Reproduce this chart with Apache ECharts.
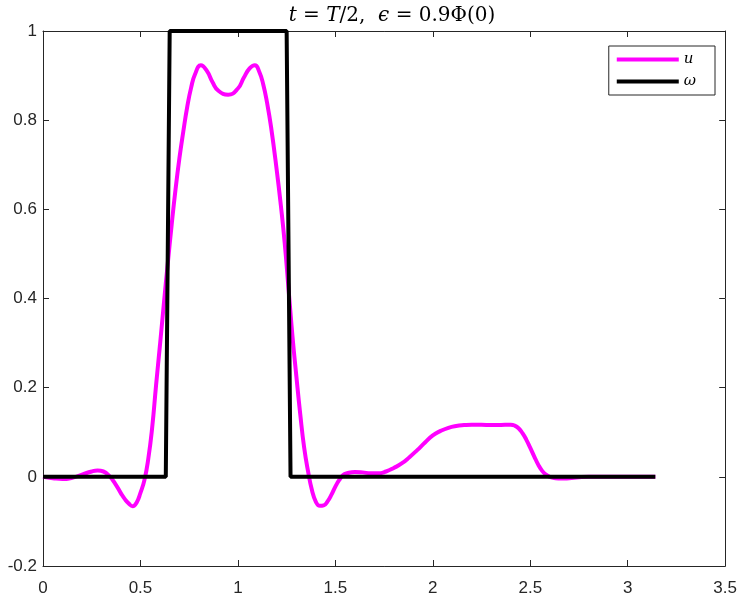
<!DOCTYPE html>
<html>
<head>
<meta charset="utf-8">
<script src="https://cdn.jsdelivr.net/npm/echarts@6/dist/echarts.min.js"></script>
<style>
html,body{margin:0;padding:0;background:#fff;}
#chart{width:740px;height:598px;}
</style>
</head>
<body>
<div id="chart"></div>
<script>
// ---- data ----
const uX = [0, 0.05, 0.10, 0.15, 0.20, 0.25, 0.28, 0.31, 0.34, 0.37, 0.40, 0.42, 0.44, 0.46, 0.48, 0.50, 0.52, 0.54, 0.56, 0.58, 0.60, 0.62, 0.64, 0.66, 0.68, 0.70, 0.72, 0.74, 0.76, 0.78, 0.81, 0.84, 0.87, 0.90, 0.95, 1.00, 1.03, 1.06, 1.087, 1.11, 1.13, 1.15, 1.17, 1.20, 1.22, 1.24, 1.26, 1.28, 1.30, 1.32, 1.34, 1.36, 1.38, 1.40, 1.42, 1.44, 1.46, 1.48, 1.50, 1.52, 1.54, 1.56, 1.60, 1.64, 1.68, 1.72, 1.76, 1.80, 1.84, 1.88, 1.92, 1.96, 2.00, 2.04, 2.08, 2.12, 2.16, 2.20, 2.25, 2.30, 2.35, 2.40, 2.42, 2.44, 2.46, 2.48, 2.50, 2.52, 2.54, 2.56, 2.58, 2.60, 2.63, 2.66, 2.70, 2.75, 2.80, 3.1416];
const uY = [0, -0.003, -0.005, -0.002, 0.005, 0.012, 0.014, 0.012, 0.002, -0.015, -0.037, -0.050, -0.060, -0.066, -0.058, -0.036, -0.008, 0.040, 0.11, 0.205, 0.295, 0.388, 0.478, 0.565, 0.645, 0.715, 0.775, 0.83, 0.873, 0.903, 0.923, 0.911, 0.885, 0.866, 0.857, 0.871, 0.895, 0.916, 0.923, 0.908, 0.880, 0.838, 0.785, 0.685, 0.61, 0.525, 0.42, 0.315, 0.225, 0.14, 0.065, 0.012, -0.03, -0.056, -0.065, -0.064, -0.055, -0.040, -0.022, -0.007, 0.004, 0.008, 0.011, 0.010, 0.008, 0.008, 0.012, 0.020, 0.030, 0.044, 0.060, 0.077, 0.093, 0.103, 0.110, 0.114, 0.116, 0.117, 0.117, 0.116, 0.1165, 0.117, 0.115, 0.109, 0.098, 0.083, 0.065, 0.046, 0.028, 0.014, 0.005, 0.0, -0.003, -0.004, -0.003, -0.001, 0, 0];
const wX = [0, 0.63, 0.65, 1.25, 1.27, 3.1416];
const wY = [0, 0, 1, 1, 0, 0];
const xTicks = [0, 0.5, 1, 1.5, 2, 2.5, 3, 3.5];
const yTicks = [-0.2, 0, 0.2, 0.4, 0.6, 0.8, 1];
const seriesNames = ['u', 'ω'];

const uData = uX.map((x, i) => [x, uY[i]]);
const wData = wX.map((x, i) => [x, wY[i]]);

const chart = echarts.init(document.getElementById('chart'));
const axisCommon = {
  axisLine: {show: true, onZero: false, lineStyle: {color: '#262626', width: 1}},
  axisTick: {show: true, inside: true, length: 6, lineStyle: {color: '#262626'}},
  splitLine: {show: false}
};
const labelStyle = {color: '#262626', fontSize: 17, fontFamily: 'Liberation Sans, Arial, sans-serif'};
const fmt = v => String(+(+v).toFixed(1));
chart.setOption({
  animation: false,
  backgroundColor: '#fff',
  title: {
    text: '{i|t} = {i|T}/2,  {i|ϵ} = 0.9Φ(0)',
    left: 387, textAlign: 'center', top: 1,
    textStyle: {
      fontSize: 20, fontWeight: 'normal', color: '#000', fontFamily: 'DejaVu Serif, serif',
      rich: {i: {fontStyle: 'italic', fontSize: 20, fontFamily: 'DejaVu Serif, serif', color: '#000'}}
    }
  },
  legend: {
    orient: 'vertical', right: 25, top: 46,
    backgroundColor: '#fff', borderColor: '#262626', borderWidth: 1,
    padding: [6, 19, 6, 8], itemWidth: 62, itemHeight: 4, itemGap: 7,
    textStyle: {fontFamily: 'DejaVu Serif, serif', fontStyle: 'italic', fontSize: 15, color: '#000'},
    data: seriesNames.map(n => ({name: n, icon: 'rect'}))
  },
  grid: {left: 43, right: 14, top: 31, bottom: 32, containLabel: false},
  xAxis: [
    Object.assign({type: 'value', min: xTicks[0], max: xTicks[xTicks.length - 1], interval: 0.5, position: 'bottom',
      axisLabel: Object.assign({margin: 14, formatter: fmt}, labelStyle)}, axisCommon),
    Object.assign({type: 'value', min: xTicks[0], max: xTicks[xTicks.length - 1], interval: 0.5, position: 'top',
      axisLabel: {show: false}}, axisCommon)
  ],
  yAxis: [
    Object.assign({type: 'value', min: yTicks[0], max: yTicks[yTicks.length - 1], interval: 0.2, position: 'left',
      axisLabel: Object.assign({margin: 6, formatter: fmt}, labelStyle)}, axisCommon),
    Object.assign({type: 'value', min: yTicks[0], max: yTicks[yTicks.length - 1], interval: 0.2, position: 'right',
      axisLabel: {show: false}}, axisCommon)
  ],
  series: [
    {name: seriesNames[0], type: 'line', data: uData, smooth: true, symbol: 'none', showSymbol: false,
      lineStyle: {color: '#ff00ff', width: 4}, itemStyle: {color: '#ff00ff'}},
    {name: seriesNames[1], type: 'line', data: wData, smooth: false, symbol: 'none', showSymbol: false,
      lineStyle: {color: '#000', width: 4}, itemStyle: {color: '#000'}}
  ]
});
</script>
</body>
</html>
